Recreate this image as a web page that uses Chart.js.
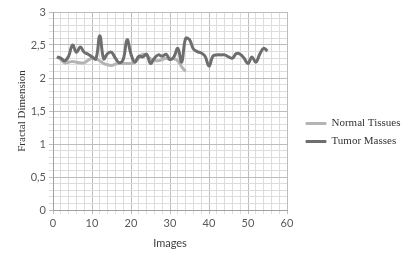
<!DOCTYPE html>
<html>
<head>
<meta charset="utf-8">
<script src="https://cdn.jsdelivr.net/npm/chart.js@4.4.0/dist/chart.umd.min.js"></script>
<style>
  html, body { margin: 0; padding: 0; background: #fff; }
  #wrap { width: 414px; height: 263px; }
</style>
</head>
<body>
<div id="wrap"><canvas id="chart"></canvas></div>
<script>
// image numbers and fractal dimension values
var images = [1, 2, 3, 4, 5, 6, 7, 8, 9, 10, 11, 12, 13, 14, 15, 16, 17, 18, 19, 20,
  21, 22, 23, 24, 25, 26, 27, 28, 29, 30, 31, 32, 33, 34, 35, 36, 37, 38, 39, 40,
  41, 42, 43, 44, 45, 46, 47, 48, 49, 50, 51, 52, 53, 54, 55];
var normalTissues = [2.32, 2.28, 2.23, 2.24, 2.25, 2.24, 2.23, 2.23, 2.27, 2.30,
  2.29, 2.26, 2.22, 2.20, 2.19, 2.21, 2.22, 2.22, 2.22, 2.22,
  2.24, 2.30, 2.36, 2.34, 2.29, 2.27, 2.26, 2.28, 2.30, 2.28,
  2.29, 2.26, 2.17, 2.10];
var tumorMasses = [2.32, 2.30, 2.26, 2.33, 2.50, 2.39, 2.47, 2.39, 2.36, 2.32,
  2.29, 2.64, 2.29, 2.37, 2.39, 2.30, 2.23, 2.28, 2.58, 2.36,
  2.24, 2.33, 2.32, 2.36, 2.22, 2.30, 2.35, 2.33, 2.36, 2.28,
  2.32, 2.45, 2.24, 2.60, 2.58, 2.44, 2.40, 2.38, 2.33, 2.18,
  2.33, 2.35, 2.35, 2.35, 2.32, 2.30, 2.37, 2.36, 2.30, 2.22,
  2.32, 2.24, 2.36, 2.45, 2.41];
var xTicks = [0, 10, 20, 30, 40, 50, 60];
var yTicks = ['0', '0,5', '1', '1,5', '2', '2,5', '3'];

function points(vals){
  return vals.map(function(v, i){ return {x: images[i], y: v}; });
}

var tickFont = {family: 'Lato', size: 11};

// put the legend where it sits in the picture
var legendShift = {
  id: 'legendShift',
  afterLayout: function(chart){
    var lg = chart.legend;
    lg.left = 299; lg.right = 414;
    lg.top -= 5; lg.bottom -= 5;
  }
};

new Chart(document.getElementById('chart').getContext('2d'), {
  type: 'line',
  data: {
    datasets: [
      {label: 'Tumor Masses', data: points(tumorMasses), borderColor: '#6e6e6e', backgroundColor: '#6e6e6e',
       borderWidth: 3, pointRadius: 0, tension: 0.4, fill: false},
      {label: 'Normal Tissues', data: points(normalTissues), borderColor: '#b4b4b4', backgroundColor: '#b4b4b4',
       borderWidth: 3, pointRadius: 0, tension: 0.4, fill: false}
    ]
  },
  options: {
    responsive: true,
    maintainAspectRatio: false,
    animation: false,
    layout: {padding: {top: 12, right: 32, left: 0, bottom: 0}},
    plugins: {
      tooltip: {enabled: false},
      legend: {
        position: 'right',
        maxWidth: 95,
        labels: {
          boxWidth: 20, boxHeight: 2, padding: 7, color: '#333',
          font: {family: 'Liberation Serif', size: 11},
          generateLabels: function(chart){
            var items = Chart.defaults.plugins.legend.labels.generateLabels(chart);
            items.forEach(function(it){ it.lineWidth = 1; });
            return items;
          },
          sort: function(a, b){ return b.datasetIndex - a.datasetIndex; }
        }
      }
    },
    scales: {
      x: {
        type: 'linear', min: 0, max: 60,
        afterFit: function(s){ s.height = 53; },
        ticks: {
          stepSize: 2, autoSkip: false, maxRotation: 0, padding: 3, color: '#595959', font: tickFont,
          callback: function(v){ return xTicks.indexOf(v) >= 0 ? String(v) : ''; }
        },
        grid: {
          tickLength: 4,
          color: function(c){ return (c.tick && c.tick.value % 10 === 0) ? '#bdbdbd' : '#dddddd'; }
        },
        border: {color: '#a0a0a0'},
        title: {display: true, text: 'Images', color: '#404040', font: tickFont, padding: {top: 3, bottom: 13}}
      },
      y: {
        min: 0, max: 3,
        afterFit: function(s){ s.width = 53; },
        ticks: {
          stepSize: 0.1, autoSkip: false, padding: 3, color: '#595959', font: tickFont,
          callback: function(v){
            var k = Math.round(v * 10);
            return k % 5 === 0 ? yTicks[k / 5] : '';
          }
        },
        grid: {
          tickLength: 4,
          color: function(c){ return (c.tick && Math.round(c.tick.value * 10) % 5 === 0) ? '#bdbdbd' : '#dddddd'; }
        },
        border: {color: '#a0a0a0'},
        title: {display: true, text: 'Fractal Dimension', color: '#333',
                font: {family: 'Liberation Serif', size: 11}, padding: {top: 16, bottom: 0}}
      }
    }
  },
  plugins: [legendShift]
});
</script>
</body>
</html>
